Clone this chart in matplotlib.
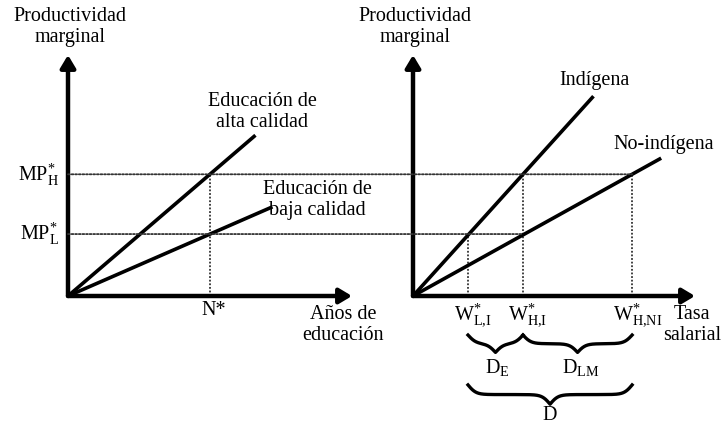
import numpy as np
import matplotlib
matplotlib.use('Agg')
import matplotlib.pyplot as plt
from matplotlib.patches import ConnectionPatch

plt.rcParams['font.family'] = ['Liberation Serif', 'DejaVu Serif']
plt.rcParams['mathtext.fontset'] = 'custom'
plt.rcParams['mathtext.rm'] = 'Liberation Serif'
plt.rcParams['mathtext.it'] = 'Liberation Serif:italic'
plt.rcParams['mathtext.bf'] = 'Liberation Serif:bold'

# panel izquierdo: productividad vs años de educacion
n_star = 5.0
mp_h = 5.05
mp_l = 2.57
alta_x = [0, 6.6]
alta_y = [0, 6.67]
baja_x = [0, 7.2]
baja_y = [0, 3.70]

# panel derecho: productividad vs tasa salarial
w_li = 1.95
w_hi = 3.9
w_hni = 7.77
ind_x = [0, 6.4]
ind_y = [0, 8.29]
noind_x = [0, 8.8]
noind_y = [0, 5.72]

w_labels = [r'W$^{*}_{\mathrm{L{,}I}}$', r'W$^{*}_{\mathrm{H{,}I}}$', r'W$^{*}_{\mathrm{H{,}NI}}$']

FS = 14.5
LS = 1.1
fig = plt.figure(figsize=(7.21, 4.24), dpi=100)
axL = fig.add_axes([68/721, 128/424, 284/721, 241/424])
axR = fig.add_axes([413/721, 128/424, 282/721, 241/424])

for ax in (axL, axR):
    ax.set_xlim(0, 10)
    ax.set_ylim(0, 10)
    ax.axis('off')
    # ejes con flecha
    ax.annotate('', xy=(0, 1), xytext=(0, 0), xycoords='axes fraction',
                arrowprops=dict(arrowstyle='-|>,head_length=0.75,head_width=0.45',
                                lw=3.2, color='black', shrinkA=0, shrinkB=0))
    ax.annotate('', xy=(1, 0), xytext=(0, 0), xycoords='axes fraction',
                arrowprops=dict(arrowstyle='-|>,head_length=0.75,head_width=0.45',
                                lw=3.2, color='black', shrinkA=0, shrinkB=0))
    ax.text(0.07, 11.16, 'Productividad\nmarginal', ha='center', va='center',
            fontsize=FS, linespacing=LS, clip_on=False)

dot = dict(color='#333333', lw=1.3, ls=(0, (1, 1)))

# lineas punteadas que cruzan ambos paneles
for y_val, x_end in [(mp_h, w_hni), (mp_l, w_hi)]:
    con = ConnectionPatch(xyA=(0, y_val), coordsA=axL.transData,
                          xyB=(x_end, y_val), coordsB=axR.transData, **dot)
    fig.add_artist(con)

axL.plot([n_star, n_star], [0, mp_h], **dot)
axR.plot([w_li, w_li], [0, mp_l], **dot)
axR.plot([w_hi, w_hi], [0, mp_h], **dot)
axR.plot([w_hni, w_hni], [0, mp_h], **dot)

axL.plot(alta_x, alta_y, color='black', lw=2.6, solid_capstyle='butt')
axL.plot(baja_x, baja_y, color='black', lw=2.6, solid_capstyle='butt')
axR.plot(ind_x, ind_y, color='black', lw=2.6, solid_capstyle='butt')
axR.plot(noind_x, noind_y, color='black', lw=2.6, solid_capstyle='butt')

# textos panel izquierdo
axL.text(-0.32, mp_h, r'MP$^{*}_{\mathrm{H}}$', ha='right', va='center', fontsize=FS, clip_on=False)
axL.text(-0.32, mp_l, r'MP$^{*}_{\mathrm{L}}$', ha='right', va='center', fontsize=FS, clip_on=False)
axL.text(n_star + 0.14, -0.62, 'N*', ha='center', va='center', fontsize=FS, clip_on=False)
axL.text(6.83, 7.63, 'Educación de\nalta calidad', ha='center', va='center',
         fontsize=FS, linespacing=LS, clip_on=False)
axL.text(8.77, 3.98, 'Educación de\nbaja calidad', ha='center', va='center',
         fontsize=FS, linespacing=LS, clip_on=False)
axL.text(9.68, -1.2, 'Años de\neducación', ha='center', va='center',
         fontsize=FS, linespacing=LS, clip_on=False)

# textos panel derecho
axR.text(6.45, 8.96, 'Indígena', ha='center', va='center', fontsize=FS, clip_on=False)
axR.text(8.9, 6.27, 'No-indígena', ha='center', va='center', fontsize=FS, clip_on=False)
axR.text(9.9, -1.2, 'Tasa\nsalarial', ha='center', va='center',
         fontsize=FS, linespacing=LS, clip_on=False)
for xv, lab in zip([w_li, w_hi, w_hni], w_labels):
    axR.text(xv + 0.18, -0.79, lab, ha='center', va='center', fontsize=FS, clip_on=False)


def brace(ax, x0, x1, ytop, depth, beta=7.0, n=301):
    xs = np.linspace(x0, x1, n)
    half = xs[:n // 2 + 1]
    yh = 1 / (1 + np.exp(-beta * (half - half[0]))) + 1 / (1 + np.exp(-beta * (half - half[-1])))
    yy = np.concatenate((yh, yh[-2::-1]))
    ax.plot(xs, ytop - (yy - 0.5) * depth, color='black', lw=2.4, clip_on=False)


brace(axR, w_li, w_hi, -1.62, 0.72)
brace(axR, w_hi, w_hni, -1.62, 0.72)
brace(axR, w_li, w_hni, -3.69, 0.8)
axR.text((w_li + w_hi) / 2 + 0.05, -2.95, r'D$_{\mathrm{E}}$', ha='center', va='center', fontsize=FS, clip_on=False)
axR.text((w_hi + w_hni) / 2 + 0.1, -2.95, r'D$_{\mathrm{LM}}$', ha='center', va='center', fontsize=FS, clip_on=False)
axR.text((w_li + w_hni) / 2, -4.94, 'D', ha='center', va='center', fontsize=FS, clip_on=False)

fig.savefig('out.png', dpi=100)
